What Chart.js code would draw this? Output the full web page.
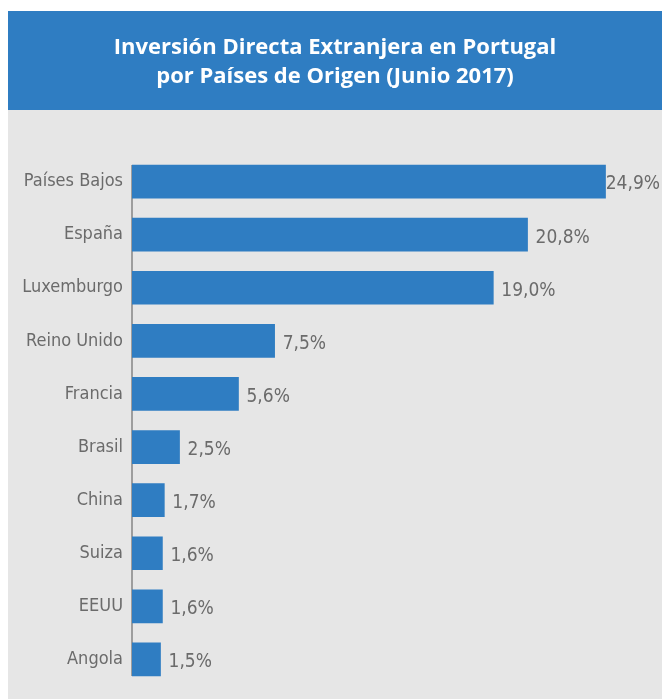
<!DOCTYPE html>
<html>
<head>
<meta charset="utf-8">
<script src="https://cdn.jsdelivr.net/npm/chart.js@4/dist/chart.umd.min.js"></script>
<style>
  html, body { margin: 0; padding: 0; background: #fff; }
  #wrap { width: 662px; height: 699px; position: relative; }
</style>
</head>
<body>
<div id="wrap"><canvas id="ideChart"></canvas></div>
<script>
// datos del gráfico
const paises = ['Países Bajos', 'España', 'Luxemburgo', 'Reino Unido', 'Francia', 'Brasil', 'China', 'Suiza', 'EEUU', 'Angola'];
const porcentajes = [24.9, 20.8, 19.0, 7.5, 5.6, 2.5, 1.7, 1.6, 1.6, 1.5];
const titulo = ['Inversión Directa Extranjera en Portugal', 'por Países de Origen (Junio 2017)'];

const AZUL = '#2f7dc2';
const GRIS_FONDO = '#e6e6e6';
const GRIS_TEXTO = '#6b6b6b';
const FUENTE_ETIQ = '"DejaVu Sans Condensed", "DejaVu Sans", sans-serif';

// fondo: banda azul del título y panel gris
const fondoPlugin = {
  id: 'fondo',
  beforeDraw(chart) {
    const ctx = chart.ctx;
    ctx.save();
    ctx.fillStyle = '#ffffff';
    ctx.fillRect(0, 0, chart.width, chart.height);
    ctx.fillStyle = AZUL;
    ctx.fillRect(8, 11, chart.width - 8, 99);
    ctx.fillStyle = GRIS_FONDO;
    ctx.fillRect(8, 110, chart.width - 8, chart.height - 110);
    ctx.restore();
  }
};

// línea del eje vertical, solo a lo largo de las barras
const ejePlugin = {
  id: 'eje',
  beforeDatasetsDraw(chart) {
    const bars = chart.getDatasetMeta(0).data;
    if (!bars.length) return;
    const first = bars[0];
    const last = bars[bars.length - 1];
    const ctx = chart.ctx;
    ctx.save();
    ctx.strokeStyle = '#858585';
    ctx.lineWidth = 1.5;
    ctx.beginPath();
    ctx.moveTo(chart.chartArea.left, first.y - first.height / 2);
    ctx.lineTo(chart.chartArea.left, last.y + last.height / 2);
    ctx.stroke();
    ctx.restore();
  }
};

// etiquetas de valor al final de cada barra
const valoresPlugin = {
  id: 'valores',
  afterDatasetsDraw(chart) {
    const ctx = chart.ctx;
    const meta = chart.getDatasetMeta(0);
    ctx.save();
    ctx.font = '19px ' + FUENTE_ETIQ;
    ctx.fillStyle = GRIS_TEXTO;
    ctx.textBaseline = 'middle';
    ctx.textAlign = 'left';
    meta.data.forEach((bar, i) => {
      const txt = porcentajes[i].toFixed(1).replace('.', ',') + '%';
      const w = ctx.measureText(txt).width;
      const x = Math.min(bar.x + 8, chart.width - 2 - w);
      ctx.fillText(txt, x, bar.y + 3);
    });
    ctx.restore();
  }
};

new Chart(document.getElementById('ideChart'), {
  type: 'bar',
  data: {
    labels: paises,
    datasets: [{
      data: porcentajes,
      backgroundColor: AZUL,
      borderWidth: 0,
      barThickness: 33
    }]
  },
  options: {
    indexAxis: 'y',
    responsive: true,
    maintainAspectRatio: false,
    animation: false,
    layout: {
      padding: { left: 8, right: 0, top: 0, bottom: 13 }
    },
    plugins: {
      legend: { display: false },
      tooltip: { enabled: false },
      title: {
        display: true,
        text: titulo,
        color: '#ffffff',
        font: { family: '"Open Sans", sans-serif', size: 22, weight: 'bold', lineHeight: 29 / 22 },
        padding: { top: 33, bottom: 64 }
      }
    },
    scales: {
      x: {
        display: false,
        min: 0,
        max: 27.87
      },
      y: {
        grid: { display: false, drawTicks: false },
        border: { display: false },
        ticks: {
          color: GRIS_TEXTO,
          font: { family: FUENTE_ETIQ, size: 18 },
          padding: 9
        },
        afterFit(scale) {
          scale.width = 124;
          scale.paddingTop = 0;
          scale.paddingBottom = 0;
        }
      }
    }
  },
  plugins: [fondoPlugin, ejePlugin, valoresPlugin]
});
</script>
</body>
</html>
